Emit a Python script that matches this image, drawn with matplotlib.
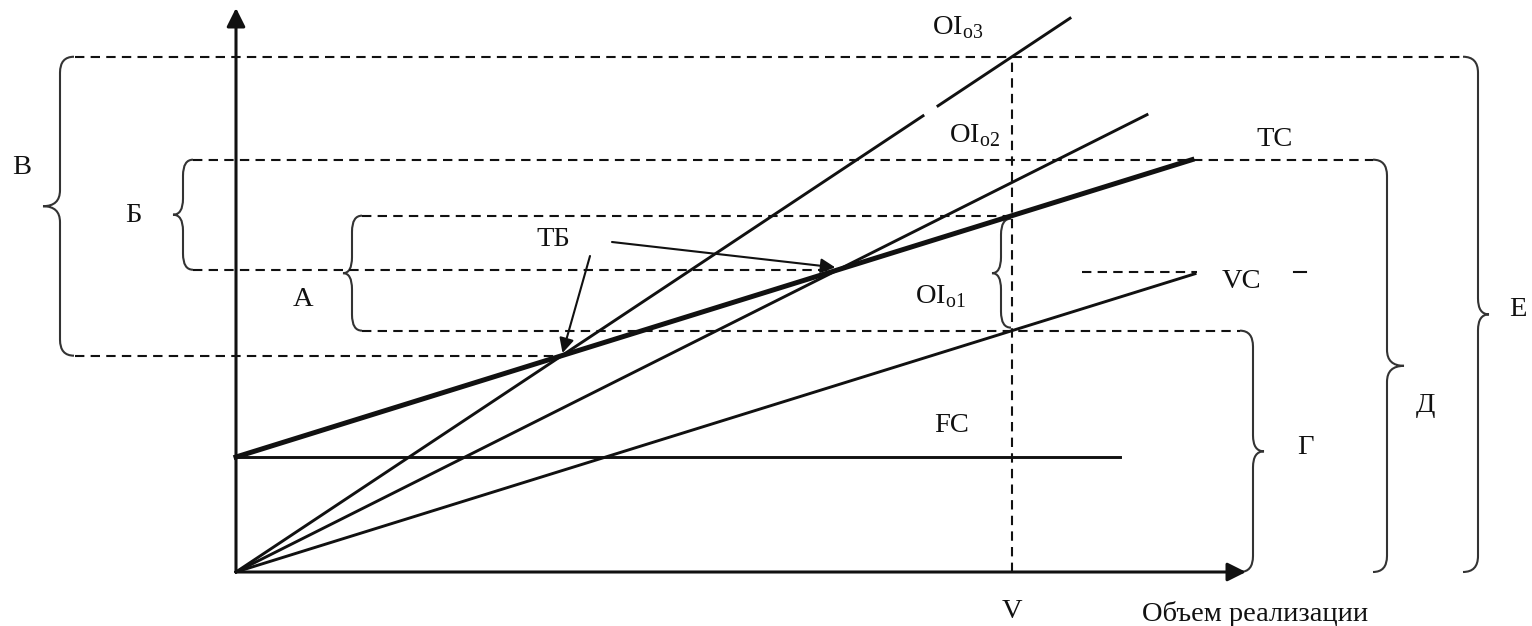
import matplotlib
matplotlib.use("Agg")
import matplotlib.pyplot as plt
import numpy as np
from matplotlib.path import Path
from matplotlib.patches import PathPatch

plt.rcParams['font.family'] = ['Liberation Serif', 'DejaVu Serif']
plt.rcParams['mathtext.fontset'] = 'custom'
plt.rcParams['mathtext.rm'] = 'Liberation Serif'

# model of the break-even chart (units: volume on x, money on y)
fixed_cost = 115
vc_slope = 0.311
revenue_slopes = {'OI2': 0.502, 'OI3': 0.664}
volume_v = 776

# how far each line runs along x
line_ends = {'FC': 884, 'VC': 959, 'TC': 956, 'OI2': 911, 'OI3': 834}
oi3_gap = (687, 702)

# labels
line_labels = ['OI$_{\\mathrm{o3}}$', 'OI$_{\\mathrm{o2}}$', 'OI$_{\\mathrm{o1}}$', 'TC', 'VC', 'FC', 'ТБ']
brace_labels = ['В', 'Б', 'А', 'Г', 'Д', 'Е']
x_label = 'Объем реализации'
v_label = 'V'

fig = plt.figure(figsize=(15.32, 6.26), dpi=100)
ax = fig.add_axes([0, 0, 1, 1])
ax.set_xlim(-236, 1296)
ax.set_ylim(-54, 572)
ax.axis('off')

ink = '#111111'
lw_main = 2.1
dash_kw = dict(color=ink, lw=1.5, dashes=(4.5, 3))


def tc(x):
    return fixed_cost + vc_slope * x


def vc(x):
    return vc_slope * x


def breakeven(slope):
    x = fixed_cost / (slope - vc_slope)
    return x, slope * x


def brace(x0, y0, y1, d, r=13, t=12, color='#333333'):
    # curly brace along x0 from y0 (bottom) to y1 (top); d=-1 tip left, +1 tip right
    ym = (y0 + y1) / 2
    rv = min(16, (y1 - y0) / 4)
    e = x0 - d * r
    tip = x0 + d * t
    verts = [(e, y1), (x0, y1), (x0, y1 - rv),
             (x0, ym + rv),
             (x0, ym), (tip, ym),
             (x0, ym), (x0, ym - rv),
             (x0, y0 + rv),
             (x0, y0), (e, y0)]
    codes = [Path.MOVETO, Path.CURVE3, Path.CURVE3,
             Path.LINETO,
             Path.CURVE3, Path.CURVE3,
             Path.CURVE3, Path.CURVE3,
             Path.LINETO,
             Path.CURVE3, Path.CURVE3]
    ax.add_patch(PathPatch(Path(verts, codes), fill=False, lw=1.5, color=color))


# key points
tb2_x, tb2_y = breakeven(revenue_slopes['OI2'])
tb3_x, tb3_y = breakeven(revenue_slopes['OI3'])
oi3_v = revenue_slopes['OI3'] * volume_v
tc_v = tc(volume_v)
vc_v = vc(volume_v)
tc_top = tc(line_ends['TC'])

# dashed guides
ax.plot([-161, 1227], [oi3_v, oi3_v], **dash_kw)
ax.plot([-43, 1137], [tc_top, tc_top], **dash_kw)
ax.plot([126, volume_v], [tc_v, tc_v], **dash_kw)
ax.plot([-43, tb2_x], [tb2_y, tb2_y], **dash_kw)
ax.plot([126, 1004], [vc_v, vc_v], **dash_kw)
ax.plot([-161, tb3_x], [tb3_y, tb3_y], **dash_kw)
ax.plot([volume_v, volume_v], [0, oi3_v], **dash_kw)
ax.plot([846, 961], [300, 300], **dash_kw)
ax.plot([1058, 1070], [300, 300], color=ink, lw=1.5)

# cost and revenue lines
xf = np.array([0, line_ends['FC']])
ax.plot(xf, [fixed_cost, fixed_cost], color=ink, lw=lw_main)
xv = np.array([0, line_ends['VC']])
ax.plot(xv, vc(xv), color=ink, lw=lw_main)
xt = np.array([0, line_ends['TC']])
ax.plot(xt, tc(xt), color=ink, lw=3.6)
x2 = np.array([0, line_ends['OI2']])
ax.plot(x2, revenue_slopes['OI2'] * x2, color=ink, lw=lw_main)
for seg in ([0, oi3_gap[0]], [oi3_gap[1], line_ends['OI3']]):
    seg = np.array(seg)
    ax.plot(seg, revenue_slopes['OI3'] * seg, color=ink, lw=lw_main)

# axes with arrows
arrow = dict(arrowstyle='-|>', color=ink, lw=2.2, mutation_scale=28, shrinkA=0, shrinkB=0)
ax.annotate('', xy=(0, 564), xytext=(0, 0), arrowprops=arrow)
ax.annotate('', xy=(1010, 0), xytext=(0, 0), arrowprops=arrow)

# braces
brace(-176, tb3_y, oi3_v, -1, r=14, t=17)
brace(-53, tb2_y, tc_top, -1, r=10, t=10)
brace(116, vc_v, tc_v, -1, r=10, t=9)
brace(765, vc_v + 3, tc_v - 3, -1, r=10, t=9)
brace(1017, 0, vc_v, 1, r=13, t=11)
brace(1151, 0, tc_top, 1, r=14, t=17)
brace(1242, 0, oi3_v, 1, r=15, t=11)

# break-even arrows
ab = dict(arrowstyle='-|>', color=ink, lw=1.5, mutation_scale=22, shrinkA=0, shrinkB=2)
ax.annotate('', xy=(tb3_x, tb3_y), xytext=(354, 316), arrowprops=ab)
ax.annotate('', xy=(tb2_x, tb2_y + 2), xytext=(376, 330), arrowprops=ab)

fs = 20.5
txt = dict(color=ink, fontsize=fs, ha='center', va='center')
ax.text(722, 544, line_labels[0], **txt)
ax.text(739, 436, line_labels[1], **txt)
ax.text(704, 275, line_labels[2], **txt)
ax.text(1039, 432, line_labels[3], **txt)
ax.text(1005, 290, line_labels[4], **txt)
ax.text(716, 147, line_labels[5], **txt)
ax.text(317, 332, line_labels[6], **txt)

ax.text(-214, 405, brace_labels[0], **txt)
ax.text(-103, 356, brace_labels[1], **txt)
ax.text(67, 272, brace_labels[2], **txt)
ax.text(1069, 125, brace_labels[3], **txt)
ax.text(1189, 167, brace_labels[4], **txt)
ax.text(1282, 263, brace_labels[5], **txt)

ax.text(volume_v, -40, v_label, **txt)
ax.text(1019, -42, x_label, **txt)

fig.savefig('out.png', dpi=100, facecolor='white')
